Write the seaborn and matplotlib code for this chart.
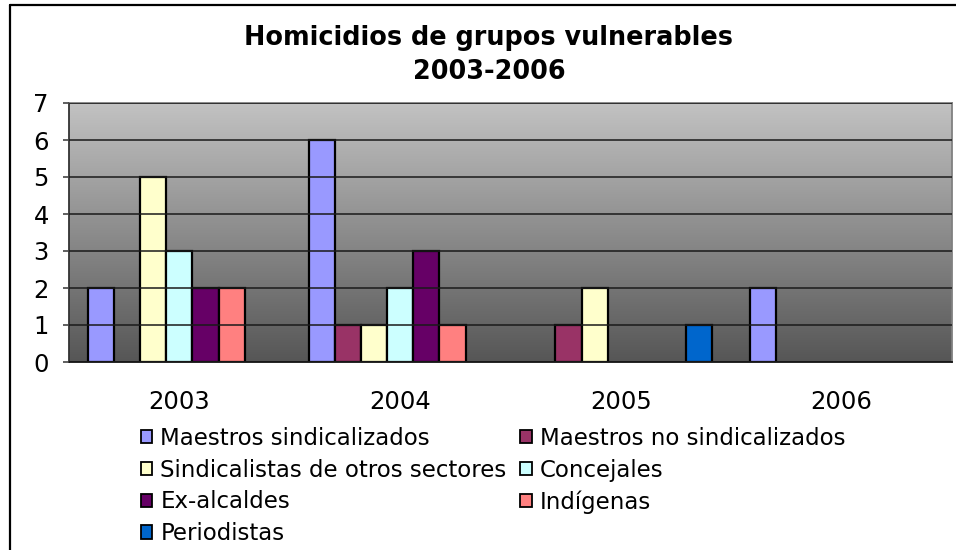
import numpy as np
import pandas as pd
import matplotlib
matplotlib.use("Agg")
import matplotlib.pyplot as plt
from matplotlib.patches import Patch
from matplotlib.lines import Line2D
from matplotlib.colors import LinearSegmentedColormap
import seaborn as sns

# data
years = ["2003", "2004", "2005", "2006"]
grupos = ["Maestros sindicalizados", "Maestros no sindicalizados",
          "Sindicalistas de otros sectores", "Concejales",
          "Ex-alcaldes", "Indígenas", "Periodistas"]
maestros_sind = [2, 6, 0, 2]
maestros_no_sind = [0, 1, 1, 0]
sindicalistas = [5, 1, 2, 0]
concejales = [3, 2, 0, 0]
ex_alcaldes = [2, 3, 0, 0]
indigenas = [2, 1, 0, 0]
periodistas = [0, 0, 1, 0]
colores = ["#9999FF", "#993366", "#FFFFCC", "#CCFFFF", "#660066", "#FF8080", "#0066CC"]

series = [maestros_sind, maestros_no_sind, sindicalistas, concejales,
          ex_alcaldes, indigenas, periodistas]
rows = []
for g, vals in zip(grupos, series):
    for y, v in zip(years, vals):
        rows.append({"year": y, "grupo": g, "value": v})
df = pd.DataFrame(rows)

sns.set_style("white")
plt.rcParams['font.family'] = ['DejaVu Sans']
plt.rcParams['text.color'] = 'black'
plt.rcParams['xtick.color'] = 'black'
plt.rcParams['ytick.color'] = 'black'
plt.rcParams['axes.labelcolor'] = 'black'

W, H = 956, 550
fig = plt.figure(figsize=(W / 100, H / 100), dpi=100)
ax = fig.add_axes([69 / W, 1 - 362 / H, (952 - 69) / W, (362 - 103) / H])

sns.barplot(data=df, x="year", y="value", hue="grupo", hue_order=grupos,
            palette=colores, width=0.83, edgecolor="black", linewidth=1.6,
            saturation=1, legend=False, ax=ax, zorder=2)

# hide the zero-height bars
for p in ax.patches:
    if p.get_height() == 0:
        p.set_visible(False)

# gradient background of the plot area
cmap = LinearSegmentedColormap.from_list("bg", ["#565656", "#C2C2C2"])
grad = np.linspace(0, 1, 256).reshape(-1, 1)
ax.imshow(grad, extent=[-0.5, 3.5, 0, 7], origin="lower", aspect="auto",
          cmap=cmap, zorder=0)
ax.set_xlim(-0.5, 3.5)
ax.set_ylim(0, 7)

ax.set_yticks(range(8))
ax.yaxis.grid(True, color="#1a1a1a", linewidth=1.1, zorder=1)
ax.set_axisbelow(False)
for line in ax.get_ygridlines():
    line.set_zorder(1)

ax.set_xlabel("")
ax.set_ylabel("")
ax.set_xticks(range(4))
ax.set_xticklabels(years)
ax.set_xticks([-0.5, 0.5, 1.5, 2.5, 3.5], minor=True)
ax.tick_params(axis="x", which="major", length=0, pad=20, labelsize=17.5)
ax.tick_params(axis="x", which="minor", length=4.5, width=1.2, color="#555555", direction="out")
ax.tick_params(axis="y", length=4.5, width=1.2, color="#444444", pad=10, labelsize=17.5,
               direction="out", left=True)

ax.spines["left"].set_color("#333333")
ax.spines["bottom"].set_color("#111111")
ax.spines["top"].set_color("#808080")
ax.spines["right"].set_color("#808080")
for s in ax.spines.values():
    s.set_linewidth(1.3)
    s.set_visible(True)

fig.text(489 / W, 1 - 55 / H, "Homicidios de grupos vulnerables\n2003-2006",
         ha="center", va="center", fontsize=18.4, fontweight="bold", linespacing=1.4)

# legend filled row by row
handles = [Patch(facecolor=c, edgecolor="black", linewidth=1.3, label=g)
           for g, c in zip(grupos, colores)]
order = [0, 2, 4, 6, 1, 3, 5]
fig.legend([handles[i] for i in order], [grupos[i] for i in order],
           ncol=2, loc="upper left", bbox_to_anchor=(141 / W, 1 - 427 / H),
           frameon=False, fontsize=16.5, handlelength=0.5, handleheight=0.5,
           handletextpad=0.35, columnspacing=0.6, labelspacing=0.38,
           borderpad=0, borderaxespad=0)

# chart area border (left and top visible)
fig.add_artist(Line2D([10 / W, 10 / W], [0, 1 - 5 / H], transform=fig.transFigure,
                      color="black", linewidth=1.6))
fig.add_artist(Line2D([10 / W, 1], [1 - 5 / H, 1 - 5 / H], transform=fig.transFigure,
                      color="black", linewidth=1.6))

fig.savefig("out.png", dpi=100, facecolor="white")
